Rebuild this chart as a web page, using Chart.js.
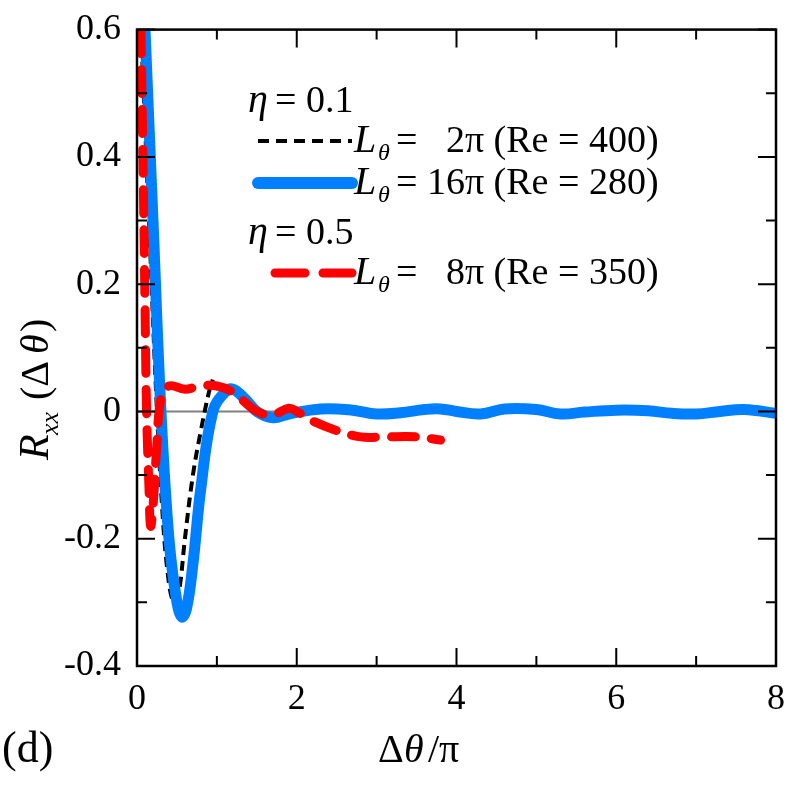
<!DOCTYPE html><html><head><style>body{margin:0;background:#fff}#w{width:789px;height:786px}</style>
<script src="https://cdn.jsdelivr.net/npm/chart.js@4"></script></head><body><div id="w"><canvas id="c"></canvas></div><script>
const blackX=[0.05,0.15,0.25,0.33,0.39,0.44,0.48,0.53,0.6,0.7,0.8,0.9,0.95];
const blackY=[0.6,0.3,0.0,-0.18,-0.26,-0.295,-0.30,-0.28,-0.2,-0.1,-0.03,0.03,0.05];
const blueX=[0.1,0.2,0.3,0.4,0.5,0.56,0.62,0.7,0.8,0.95,1.1,1.2,1.35,1.5,1.7,1.9,2.3,2.7,3.0,3.3,3.6,3.8,4.0,4.3,4.6,5.0,5.3,5.6,6.0,6.4,6.7,7.0,7.3,7.6,8.0];
const blueY=[0.6,0.3,0.0,-0.2,-0.3,-0.323,-0.31,-0.24,-0.12,0.0,0.03,0.035,0.02,0.0,-0.01,-0.004,0.004,0.002,-0.004,-0.002,0.003,0.004,0.0,-0.004,0.004,0.003,-0.004,-0.001,0.002,0.001,-0.003,-0.004,0.0,0.003,-0.003];
const redX=[0.05,0.08,0.1,0.12,0.15,0.17,0.2,0.25,0.3,0.4,0.6,0.8,1.0,1.2,1.5,1.7,1.9,2.0,2.2,2.5,2.8,3.1,3.5,3.8];
const redY=[0.6,0.35,0.17,0.0,-0.12,-0.18,-0.15,-0.05,0.02,0.04,0.035,0.04,0.04,0.03,0.0,-0.005,0.005,0.0,-0.015,-0.03,-0.04,-0.04,-0.04,-0.045];
const xTicks=[0,2,4,6,8], yTicks=[-0.4,-0.2,0,0.2,0.4,0.6];
const pts=(xs,ys)=>xs.map((x,i)=>({x,y:ys[i]}));
const F='Liberation Serif';
const deco={id:'deco',afterDraw(ch){const c=ch.ctx,a=ch.chartArea,xs=ch.scales.x,ys=ch.scales.y;c.save();
c.strokeStyle='#000';c.lineWidth=2.5;c.strokeRect(a.left,a.top,a.right-a.left,a.bottom-a.top);
c.lineWidth=2;
for(let v=0;v<=8;v+=1){const p=xs.getPixelForValue(v),L=v%2?10:18;c.beginPath();c.moveTo(p,a.bottom);c.lineTo(p,a.bottom-L);c.moveTo(p,a.top);c.lineTo(p,a.top+L);c.stroke();}
for(let k=-4;k<=6;k++){const p=ys.getPixelForValue(k/10),L=k%2?10:18;c.beginPath();c.moveTo(a.left,p);c.lineTo(a.left+L,p);c.moveTo(a.right,p);c.lineTo(a.right-L,p);c.stroke();}
c.fillStyle='#000';c.textBaseline='alphabetic';
c.font='italic 40px '+F;c.fillText('η',248,112);c.fillText('η',248,244);
c.font='38px '+F;c.fillText('= 0.1',275,112);c.fillText('= 0.5',275,244);
const leg=[[152,'2π (Re = 400)',{c:'#000',w:4,d:[11,7]},1],[194,'16π (Re = 280)',{c:'#0080ff',w:12,d:[]},0],[284,'8π (Re = 350)',{c:'#ff0000',w:9,d:[30,18]},1]];
leg.forEach(([y,t,s,sp])=>{c.save();c.strokeStyle=s.c;c.lineWidth=s.w;c.setLineDash(s.d);c.lineCap=s.w>5?'round':'butt';c.beginPath();c.moveTo(s.w>10?258:(s.c=='#000'?258:275),y-11);c.lineTo(352,y-11);c.stroke();c.restore();
c.font='italic 40px '+F;c.fillText('L',354,y);c.font='italic 24px '+F;c.fillText('θ',378,y+8);c.font='38px '+F;c.fillText(sp?'=   ':'= ',396,y);const w=c.measureText(sp?'=   ':'= ').width;c.fillText(t,396+w,y);});
c.font='40px '+F;c.textAlign='left';
c.fillText('Δ',378,762);c.font='italic 40px '+F;c.fillText('θ',404,762);c.font='40px '+F;c.fillText('/π',428,762);
c.font='44px '+F;c.fillText('(d)',2,762);
c.translate(48,460);c.rotate(-Math.PI/2);c.textAlign='left';
c.font='italic 42px '+F;c.fillText('R',0,0);c.font='italic 26px '+F;c.fillText('xx',25,10);
c.font='40px '+F;c.fillText('(Δ',60,0);c.font='italic 40px '+F;c.fillText('θ',106,0);c.font='40px '+F;c.fillText(')',128,0);
c.restore();}};
const zero={id:'zero',beforeDatasetsDraw(ch){const c=ch.ctx,a=ch.chartArea,p=ch.scales.y.getPixelForValue(0);c.save();c.strokeStyle='#808080';c.lineWidth=2;c.beginPath();c.moveTo(a.left,p);c.lineTo(a.right,p);c.stroke();c.restore();}};
new Chart(document.getElementById('c'),{type:'line',data:{datasets:[
{data:pts(redX,redY),borderColor:'#ff0000',borderWidth:9,borderDash:[24,16],borderCapStyle:'round',tension:0.4,pointRadius:0},
{data:pts(blueX,blueY),borderColor:'#0080ff',borderWidth:11,tension:0.4,pointRadius:0},
{data:pts(blackX,blackY),borderColor:'#000',borderWidth:4,borderDash:[10,6],tension:0.4,pointRadius:0}]},
options:{responsive:true,maintainAspectRatio:false,animation:false,clip:true,layout:{padding:{top:28,right:12}},
plugins:{legend:{display:false},tooltip:{enabled:false}},
scales:{x:{type:'linear',min:0,max:8,afterBuildTicks:s=>{s.ticks=xTicks.map(v=>({value:v}))},grid:{display:false},border:{display:false},ticks:{color:'#000',font:{family:F,size:36},padding:4},afterFit:s=>{s.height=120}},
y:{min:-0.4,max:0.6,afterBuildTicks:s=>{s.ticks=yTicks.map(v=>({value:v}))},grid:{display:false},border:{display:false},ticks:{color:'#000',font:{family:F,size:36},padding:8,callback:v=>v==0?'0':String(Math.round(v*10)/10)},afterFit:s=>{s.width=137}}}},
plugins:[zero,deco]});
</script></body></html>
